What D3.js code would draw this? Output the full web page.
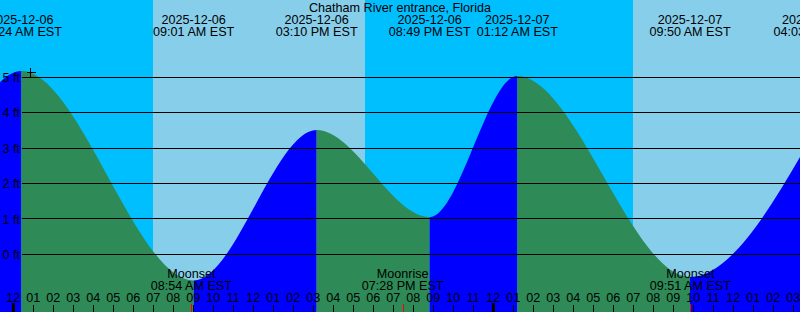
<!doctype html>
<html lang="en">
<head>
<meta charset="utf-8" />
<title>Chatham River entrance, Florida</title>
<script src="https://d3js.org/d3.v7.min.js"></script>
<style>
  html, body { margin: 0; padding: 0; background: #fff; }
  svg { display: block; }
  text { font-family: "Liberation Sans", Arial, sans-serif; font-size: 12.6px; fill: #000; }
</style>
</head>
<body>
<div id="chart"></div>
<script>
// tide extremes (first and last are just off the picture)
var tideTimes = ["2025-12-05 19:55", "2025-12-06 00:24", "2025-12-06 09:01", "2025-12-06 15:10",
                 "2025-12-06 20:49", "2025-12-07 01:12", "2025-12-07 09:50", "2025-12-07 16:03"];
var tideHeights = [1.1, 5.18, -0.74, 3.51, 1.05, 5.04, -0.64, 3.45];

// sun: night / day bands
var sunTimes = ["2025-12-06 06:59", "2025-12-06 17:35", "2025-12-07 06:59"];
var sunEvents = ["Sunrise", "Sunset", "Sunrise"];

// moon
var moonTimes = ["2025-12-06 08:54", "2025-12-06 19:28", "2025-12-07 09:51"];
var moonEvents = ["Moonset", "Moonrise", "Moonset"];

// "+" marker
var markTime = "2025-12-06 00:50";
var markHeight = 5.15;

var levelTicks = [0, 1, 2, 3, 4, 5];
var title = "Chatham River entrance, Florida";
var startTime = "2025-12-05 23:20", endTime = "2025-12-07 15:20";

var width = 800, height = 312;
var parse = d3.utcParse("%Y-%m-%d %H:%M");
var fmtDate = d3.utcFormat("%Y-%m-%d"),
    fmtTime = d3.utcFormat("%I:%M %p EST"),
    fmtHour = d3.utcFormat("%I");

var x = d3.scaleUtc().domain([parse(startTime), parse(endTime)]).range([0, width]);
var y = d3.scaleLinear().domain([0, 5]).range([254.3, 77.3]);

var svg = d3.select("#chart").append("svg")
    .attr("width", width).attr("height", height);

// day / night background
var edges = [parse(startTime)].concat(sunTimes.map(parse), [parse(endTime)]);
for (var i = 0; i < edges.length - 1; i++) {
    svg.append("rect")
        .attr("x", x(edges[i]))
        .attr("y", 0)
        .attr("width", x(edges[i + 1]) - x(edges[i]))
        .attr("height", height)
        .attr("fill", i % 2 === 0 ? "#00bfff" : "#87ceeb");
}

// tide curve
var tide = tideTimes.map(function (t, i) { return { t: parse(t), h: tideHeights[i] }; });
var area = d3.area()
    .x(function (d) { return x(d.t); })
    .y0(height)
    .y1(function (d) { return y(d.h); })
    .curve(d3.curveMonotoneX);

var defs = svg.append("defs");
for (var i = 0; i < tide.length - 1; i++) {
    var rising = tide[i + 1].h > tide[i].h;
    defs.append("clipPath").attr("id", "seg" + i)
        .append("rect")
        .attr("x", x(tide[i].t))
        .attr("y", 0)
        .attr("width", x(tide[i + 1].t) - x(tide[i].t))
        .attr("height", height);
    svg.append("path")
        .datum(tide)
        .attr("clip-path", "url(#seg" + i + ")")
        .attr("fill", rising ? "#0000ff" : "#2e8b57")
        .attr("d", area);
}

// level lines
svg.selectAll(".level")
    .data(levelTicks)
    .enter().append("line")
    .attr("x1", 22).attr("x2", width)
    .attr("y1", function (d) { return Math.floor(y(d)) + 0.5; })
    .attr("y2", function (d) { return Math.floor(y(d)) + 0.5; })
    .attr("stroke", "#000")
    .attr("shape-rendering", "crispEdges");

svg.selectAll(".levelLabel")
    .data(levelTicks)
    .enter().append("text")
    .attr("x", 20)
    .attr("y", function (d) { return y(d) + 4.6; })
    .attr("text-anchor", "end")
    .text(function (d) { return d + " ft"; });

// "+" marker
var mx = Math.round(x(parse(markTime))) + 0.5, my = Math.round(y(markHeight)) + 0.5;
svg.append("path")
    .attr("d", "M" + (mx - 4) + "," + my + "H" + (mx + 5) + "M" + mx + "," + (my - 5) + "V" + (my + 4))
    .attr("stroke", "#000")
    .attr("shape-rendering", "crispEdges");

// title and tide event labels
svg.append("text")
    .attr("x", width / 2).attr("y", 12)
    .attr("text-anchor", "middle")
    .text(title);

var ev = svg.selectAll(".ev")
    .data(tide)
    .enter().append("g");
ev.append("text")
    .attr("x", function (d) { return x(d.t); })
    .attr("y", 24)
    .attr("text-anchor", "middle")
    .text(function (d) { return fmtDate(d.t); });
ev.append("text")
    .attr("x", function (d) { return x(d.t); })
    .attr("y", 36)
    .attr("text-anchor", "middle")
    .text(function (d) { return fmtTime(d.t); });

// moon labels
var moon = moonTimes.map(function (t, i) { return { t: parse(t), name: moonEvents[i] }; });
var mv = svg.selectAll(".moon")
    .data(moon)
    .enter().append("g");
mv.append("text")
    .attr("x", function (d) { return x(d.t); })
    .attr("y", 278)
    .attr("text-anchor", "middle")
    .text(function (d) { return d.name; });
mv.append("text")
    .attr("x", function (d) { return x(d.t); })
    .attr("y", 290)
    .attr("text-anchor", "middle")
    .text(function (d) { return fmtTime(d.t); });

// hour axis
var hours = x.ticks(d3.utcHour.every(1));
svg.selectAll(".hourLabel")
    .data(hours)
    .enter().append("text")
    .attr("x", function (d) { return x(d); })
    .attr("y", 302)
    .attr("text-anchor", "middle")
    .text(function (d) { return fmtHour(d); });

svg.selectAll(".hourTick")
    .data(hours)
    .enter().append("rect")
    .attr("x", function (d) { return d.getUTCHours() === 0 ? Math.round(x(d)) - 1.5 : Math.round(x(d)) - 0.5; })
    .attr("y", function (d) { return d.getUTCHours() === 0 ? 303 : 305; })
    .attr("width", function (d) { return d.getUTCHours() === 0 ? 3 : 1; })
    .attr("height", function (d) { return d.getUTCHours() === 0 ? 9 : 7; })
    .attr("fill", "#000")
    .attr("shape-rendering", "crispEdges");

svg.selectAll(".moonTick")
    .data(moon)
    .enter().append("rect")
    .attr("x", function (d) { return Math.round(x(d.t)) - 0.5; })
    .attr("y", 304)
    .attr("width", 1)
    .attr("height", 8)
    .attr("fill", "#ff0000")
    .attr("shape-rendering", "crispEdges");
</script>
</body>
</html>
